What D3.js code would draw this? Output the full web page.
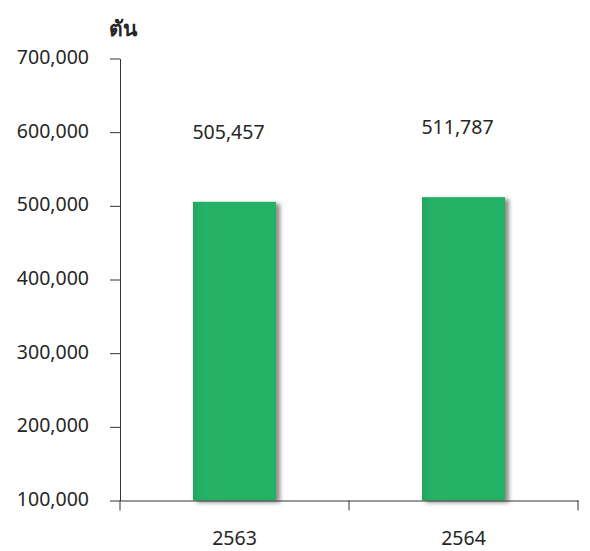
<!DOCTYPE html>
<html>
<head>
<meta charset="utf-8">
<script src="https://cdn.jsdelivr.net/npm/d3@7"></script>
<style>
body { margin: 0; background: #fff; }
text { font-family: "Noto Sans", "Open Sans", sans-serif; fill: #262626; }
</style>
</head>
<body>
<div id="chart"></div>
<script>
// Data
const years = ["2563", "2564"];
const tonnes = [505457, 511787];
const yTicks = [100000, 200000, 300000, 400000, 500000, 600000, 700000];
const unitLabel = "ตัน";

const width = 590, height = 551;

const svg = d3.select("#chart")
    .append("svg")
    .attr("width", width)
    .attr("height", height);

// soft shadow behind the bars
const defs = svg.append("defs");
const shadow = defs.append("filter")
    .attr("id", "shadow")
    .attr("x", "-20%").attr("y", "-20%")
    .attr("width", "150%").attr("height", "150%");
shadow.append("feDropShadow")
    .attr("dx", 4).attr("dy", 2)
    .attr("stdDeviation", 2.2)
    .attr("flood-color", "#000")
    .attr("flood-opacity", 0.45);

const grad = defs.append("linearGradient")
    .attr("id", "barFill")
    .attr("x1", "0").attr("x2", "1").attr("y1", "0").attr("y2", "0");
grad.append("stop").attr("offset", "0%").attr("stop-color", "#1fa85d");
grad.append("stop").attr("offset", "12%").attr("stop-color", "#25b266");
grad.append("stop").attr("offset", "100%").attr("stop-color", "#24b165");

// Scales
const y = d3.scaleLinear()
    .domain([100000, 700000])
    .range([500.5, 58.5]);

const x = d3.scaleBand()
    .domain(years)
    .range([120, 578])
    .padding(0);

const barWidth = x.bandwidth() * 0.3625;

// Y axis
const yAxis = svg.append("g")
    .attr("transform", "translate(120,0)")
    .call(d3.axisLeft(y)
        .tickValues(yTicks)
        .tickSize(10)
        .tickSizeOuter(0)
        .tickPadding(21)
        .tickFormat(d3.format(",")));
yAxis.select(".domain").attr("stroke", "#333");
yAxis.selectAll(".tick line").attr("stroke", "#333");
yAxis.selectAll(".tick text")
    .attr("dy", "0.25em")
    .style("font-size", "19.5px")
    .style("font-family", "'Noto Sans', sans-serif")
    .attr("fill", "#262626");

// Bars
svg.append("g")
    .selectAll("rect")
    .data(years)
    .join("rect")
    .attr("x", (d) => x(d) + (x.bandwidth() - barWidth) / 2)
    .attr("width", barWidth)
    .attr("y", (d, i) => y(tonnes[i]))
    .attr("height", (d, i) => y(100000) - y(tonnes[i]))
    .attr("fill", "url(#barFill)")
    .attr("filter", "url(#shadow)");

// X axis
const xAxis = svg.append("g")
    .attr("transform", `translate(0,${y(100000)})`)
    .call(d3.axisBottom(x).tickSize(0).tickPadding(31));
xAxis.select(".domain").attr("stroke", "#333");
xAxis.selectAll(".tick text")
    .attr("dy", "0.71em")
    .style("font-size", "19.5px")
    .style("font-family", "'Noto Sans', sans-serif")
    .attr("fill", "#262626");

// category boundary ticks
const bounds = years.map((d) => x(d)).concat([x.range()[1]]);
xAxis.selectAll(".bound")
    .data(bounds)
    .join("line")
    .attr("class", "bound")
    .attr("x1", (d) => d).attr("x2", (d) => d)
    .attr("y1", 0).attr("y2", 10)
    .attr("stroke", "#333");

// Value labels
svg.append("g")
    .selectAll("text")
    .data(years)
    .join("text")
    .attr("x", (d) => x(d) + x.bandwidth() / 2 - 6)
    .attr("y", (d, i) => y(tonnes[i]) - 63)
    .attr("text-anchor", "middle")
    .style("font-size", "19.5px")
    .text((d, i) => d3.format(",")(tonnes[i]));

// Unit label
svg.append("text")
    .attr("x", 109)
    .attr("y", 36)
    .style("font-size", "21px")
    .style("font-weight", "bold")
    .text(unitLabel);
</script>
</body>
</html>
